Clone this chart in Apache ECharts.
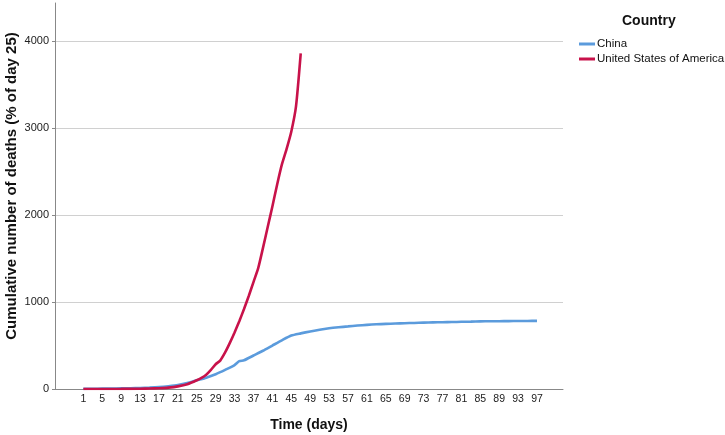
<!DOCTYPE html>
<html>
<head>
<meta charset="utf-8">
<script src="https://cdn.jsdelivr.net/npm/echarts@6/dist/echarts.min.js"></script>
<style>html,body{margin:0;padding:0;background:#fff}#c{width:725px;height:435px}</style>
</head>
<body>
<div id="c"></div>
<script>
const xTickLabels = [1,5,9,13,17,21,25,29,33,37,41,45,49,53,57,61,65,69,73,77,81,85,89,93,97];
const yTickLabels = [0,1000,2000,3000,4000];

const chinaDays = [1,3,5,7,9,11,13,15,17,19,21,23,25,27,29,31,33,34,35,37,39,41,43,45,47,49,51,53,55,57,59,61,63,65,67,69,71,73,75,77,79,81,83,85,87,89,91,93,95,97];
const chinaValues = [2,3,4,5,7,9,12,16,22,32,45,68,100,130,170,220,275,320,330,385,440,500,560,615,640,662,682,698,710,720,730,738,744,749,753,757,760,763,766,768,770,773,775,778,779,780,781,782,783,784];

const usaDays = [1,5,9,13,15,17,19,21,23,25,26,27,28,29,30,31,32,33,34,35,36,37,38,39,40,41,42,43,44,45,46,47];
const usaValues = [0,0,1,3,5,9,16,30,55,100,128,165,220,285,330,420,530,650,780,920,1070,1230,1390,1620,1860,2100,2350,2580,2760,2960,3250,3860];

const FONT = 'Liberation Sans, Arial, sans-serif';
const pair = (d, v) => d.map((x, i) => [x, v[i]]);

const chart = echarts.init(document.getElementById('c'), null, {renderer: 'canvas'});
chart.setOption({
  animation: false,
  backgroundColor: '#fff',
  title: {
    text: 'Country', left: 617, top: 9,
    textStyle: {fontFamily: FONT, fontSize: 14, fontWeight: 'bold', color: '#111'}
  },
  legend: {
    orient: 'vertical', left: 574, top: 33, itemWidth: 16, itemHeight: 3, itemGap: 3,
    icon: 'rect',
    textStyle: {fontFamily: FONT, fontSize: 11.5, color: '#111', padding: [0,0,0,-3]},
    data: ['China', 'United States of America']
  },
  grid: {left: 55, right: 162, top: 3, bottom: 46, containLabel: false, outerBoundsMode: 'none'},
  xAxis: {
    type: 'value', min: -5, max: 102.5,
    name: 'Time (days)', nameLocation: 'middle', nameGap: 29, nameMoveOverlap: false,
    nameTextStyle: {fontFamily: FONT, fontSize: 14, fontWeight: 'bold', color: '#111'},
    axisLine: {show: true, onZero: false, lineStyle: {color: '#888', width: 1}},
    axisTick: {show: false},
    splitLine: {show: false},
    axisLabel: {customValues: xTickLabels, margin: 5, fontFamily: FONT, fontSize: 10.5, color: '#222',
      formatter: v => String(v)}
  },
  yAxis: {
    type: 'value', min: 0, max: 4440,
    name: 'Cumulative number of deaths (% of day 25)', nameLocation: 'middle', nameGap: 36, nameMoveOverlap: false,
    nameTextStyle: {fontFamily: FONT, fontSize: 15, fontWeight: 'bold', color: '#111', padding: [0,0,0,20]},
    axisLine: {show: true, onZero: false, lineStyle: {color: '#888', width: 1}},
    axisTick: {show: true, length: 3, customValues: yTickLabels, lineStyle: {color: '#888'}},
    splitLine: {show: true, lineStyle: {color: '#d0d0d0', width: 1}},
    axisLabel: {customValues: yTickLabels, margin: 6, fontFamily: FONT, fontSize: 11, color: '#222',
      formatter: v => String(v)}
  },
  series: [
    {name: 'China', type: 'line', data: pair(chinaDays, chinaValues), showSymbol: false, symbol: 'none',
     smooth: 0.2, lineStyle: {color: '#5b9bdc', width: 2.6}, itemStyle: {color: '#5b9bdc'}, z: 2},
    {name: 'United States of America', type: 'line', data: pair(usaDays, usaValues), showSymbol: false, symbol: 'none',
     smooth: 0.2, lineStyle: {color: '#c8124a', width: 2.6}, itemStyle: {color: '#c8124a'}, z: 3}
  ]
});
</script>
</body>
</html>
